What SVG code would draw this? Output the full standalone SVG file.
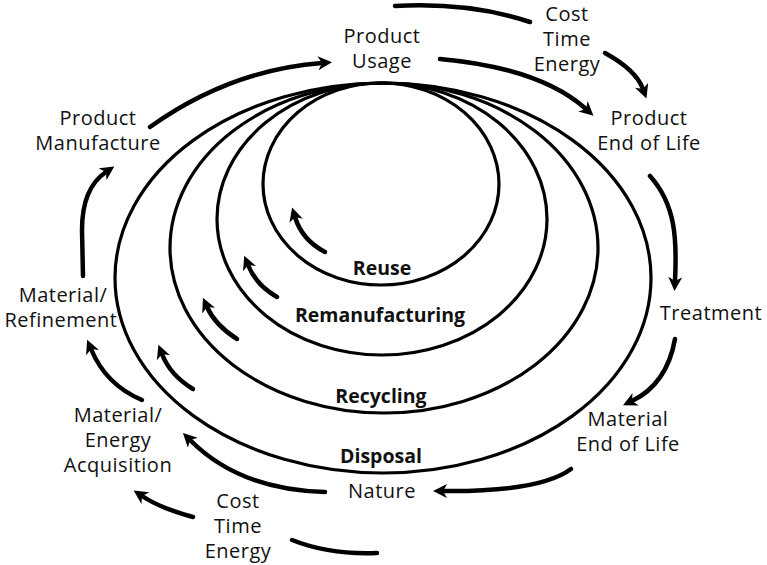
<svg xmlns="http://www.w3.org/2000/svg" width="767" height="565" viewBox="0 0 767 565">
<style>
.lbl{font-family:"Open Sans","Liberation Sans",sans-serif;font-size:20px;letter-spacing:0.5px;fill:#111;text-anchor:middle}
.bold{font-family:"Open Sans","Liberation Sans",sans-serif;font-size:19.5px;font-weight:bold;fill:#111;text-anchor:middle}
.ring{fill:none;stroke:#000;stroke-width:3.2}
.arr{fill:none;stroke:#000;stroke-width:4.5;stroke-linecap:round}
</style>
<defs>
<marker id="ah" markerUnits="userSpaceOnUse" markerWidth="16" markerHeight="14" refX="4" refY="7" orient="auto">
<path d="M0,0 L14,7 L0,14 L4,7 Z" fill="#000"/>
</marker>
</defs>
<rect width="767" height="565" fill="#fff"/>
<g id="rings">
<ellipse id="ring-disposal" class="ring" cx="383" cy="278" rx="268" ry="195"/>
<ellipse id="ring-recycling" class="ring" cx="384" cy="248" rx="214" ry="165"/>
<ellipse id="ring-reman" class="ring" cx="382" cy="219" rx="165" ry="136"/>
<ellipse id="ring-reuse" class="ring" cx="381" cy="184" rx="118" ry="101"/>
</g>
<g id="connectors">
<path class="arr" d="M150,127 Q230,70 322,63" marker-end="url(#ah)"/>
<path class="arr" d="M440,59 Q540,68 586,109" marker-end="url(#ah)"/>
<path class="arr" d="M395,6 Q470,2 530,22"/>
<path class="arr" d="M605,53 Q636,70 643,89" marker-end="url(#ah)"/>
<path class="arr" d="M650,176 C676,205 677,240 675,281" marker-end="url(#ah)"/>
<path class="arr" d="M675,339 Q667,384 632,401" marker-end="url(#ah)"/>
<path class="arr" d="M571,469 Q540,492 443,491" marker-end="url(#ah)"/>
<path class="arr" d="M325,492 Q240,490 190,440" marker-end="url(#ah)"/>
<path class="arr" d="M193,517 Q160,508 142,496" marker-end="url(#ah)"/>
<path class="arr" d="M292,540 Q330,555 377,553"/>
<path class="arr" d="M142,400 Q106,385 91,349" marker-end="url(#ah)"/>
<path class="arr" d="M83,276 L82,230 Q82,188 106,172" marker-end="url(#ah)"/>
<path class="arr" d="M325,252 Q302,240 295,217" marker-end="url(#ah)"/>
<path class="arr" d="M277,297 Q256,285 248,265" marker-end="url(#ah)"/>
<path class="arr" d="M237,339 Q215,325 207,307" marker-end="url(#ah)"/>
<path class="arr" d="M193,389 Q170,375 162,354" marker-end="url(#ah)"/>
</g>
<g id="product-usage"><text class="lbl" x="382" y="43">Product</text><text class="lbl" x="382" y="68">Usage</text></g>
<g id="cost-top"><text class="lbl" x="567" y="21">Cost</text><text class="lbl" x="567" y="46">Time</text><text class="lbl" x="567" y="71">Energy</text></g>
<g id="product-eol"><text class="lbl" x="649" y="125">Product</text><text class="lbl" x="649" y="150">End of Life</text></g>
<g id="treatment"><text class="lbl" x="711" y="320">Treatment</text></g>
<g id="material-eol"><text class="lbl" x="628" y="426">Material</text><text class="lbl" x="628" y="451">End of Life</text></g>
<g id="nature"><text class="lbl" x="382" y="498">Nature</text></g>
<g id="cost-bottom"><text class="lbl" x="238" y="508">Cost</text><text class="lbl" x="238" y="533">Time</text><text class="lbl" x="238" y="558">Energy</text></g>
<g id="acquisition"><text class="lbl" x="118" y="422">Material/</text><text class="lbl" x="118" y="447">Energy</text><text class="lbl" x="118" y="472">Acquisition</text></g>
<g id="refinement"><text class="lbl" x="63" y="302">Material/</text><text class="lbl" x="61" y="327">Refinement</text></g>
<g id="manufacture"><text class="lbl" x="98" y="125">Product</text><text class="lbl" x="98" y="150">Manufacture</text></g>
<g id="reuse"><text class="bold" x="382" y="275">Reuse</text></g>
<g id="remanufacturing"><text class="bold" x="380" y="322">Remanufacturing</text></g>
<g id="recycling"><text class="bold" x="381" y="403">Recycling</text></g>
<g id="disposal"><text class="bold" x="381" y="463">Disposal</text></g>
</svg>
